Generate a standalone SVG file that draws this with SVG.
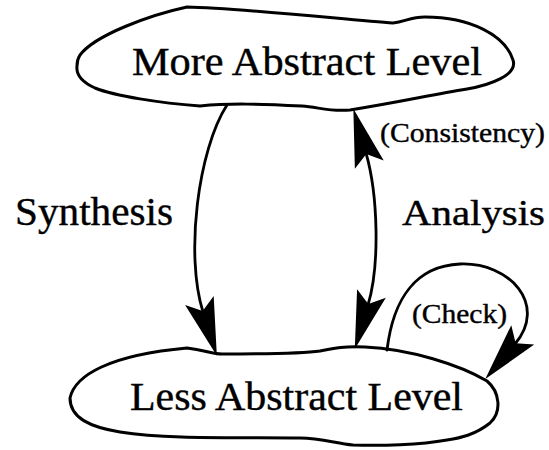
<svg xmlns="http://www.w3.org/2000/svg" width="549" height="450" viewBox="0 0 549 450">
  <style>
    .blob { fill: #ffffff; stroke: #000000; stroke-width: 3; stroke-linejoin: round; }
    .conn { fill: none; stroke: #000000; stroke-width: 2.8; stroke-linecap: round; }
    .lvl, .big, .small { font-family: "Liberation Serif", "Times New Roman", serif; fill: #000000; stroke: #000000; stroke-width: 0.4; }
    .lvl { font-size: 40px; }
    .small { font-size: 27px; }
  </style>
  <defs>
    <!-- barbed arrowhead, reference point at the notch -->
    <marker id="barb" markerUnits="userSpaceOnUse" markerWidth="80" markerHeight="40"
            refX="0" refY="0" orient="auto-start-reverse" overflow="visible">
      <path d="M46,0 L-12,-15 L-1,0 L-12,15 Z" fill="#000000"/>
    </marker>
  </defs>

  <rect width="549" height="450" fill="#ffffff"/>

  <g id="more-abstract">
    <path class="blob" d="M80,55 C95,35 150,15 187,7 C240,8 350,20 393,23 C405,22 410,17 425,17 C470,17 505,35 513,60 C518,75 490,85 467,89 C430,95 400,102 350,110 C330,112 318,107 302,106 C260,104 230,103 200,106 C160,103 115,96 95,88 C82,82 76,74 77,66 C77,61 78,58 80,55 Z"/>
    <text class="lvl" x="132" y="75" textLength="350" lengthAdjust="spacingAndGlyphs">More Abstract Level</text>
  </g>

  <g id="less-abstract">
    <path class="blob" d="M70,398 C75,375 110,355 187,348 C205,350 212,354 222,354 C260,354 300,354 320,351 C335,348 345,346 365,347 C410,349 460,365 487,381 C500,392 502,412 490,423 C475,435 460,438 447,440 C420,445 380,446 353,445 C335,443 320,438 300,438 C240,437 170,440 120,432 C90,427 70,418 70,398 Z"/>
    <text class="lvl" x="130" y="410" textLength="333" lengthAdjust="spacingAndGlyphs">Less Abstract Level</text>
  </g>

  <g id="connectors">
    <!-- Synthesis: downward -->
    <path class="conn" d="M227,105 C198,150 185,255 203,312" marker-end="url(#barb)"/>
    <!-- Analysis: two-way -->
    <path class="conn" d="M366,153 C378,195 380,265 368,305" marker-start="url(#barb)" marker-end="url(#barb)"/>
    <!-- Check: self loop on the lower level -->
    <path class="conn" d="M387,350 C393,300 415,266 460,264 C510,262 548,305 515,344" marker-end="url(#barb)"/>
  </g>

  <g id="labels">
    <text class="big" x="15" y="225" font-size="41" textLength="158" lengthAdjust="spacingAndGlyphs">Synthesis</text>
    <text class="big" x="402" y="225" font-size="36" textLength="143" lengthAdjust="spacingAndGlyphs">Analysis</text>
    <text class="small" x="380" y="142" textLength="165" lengthAdjust="spacingAndGlyphs">(Consistency)</text>
    <text class="small" x="412" y="323" textLength="95" lengthAdjust="spacingAndGlyphs">(Check)</text>
  </g>
</svg>
